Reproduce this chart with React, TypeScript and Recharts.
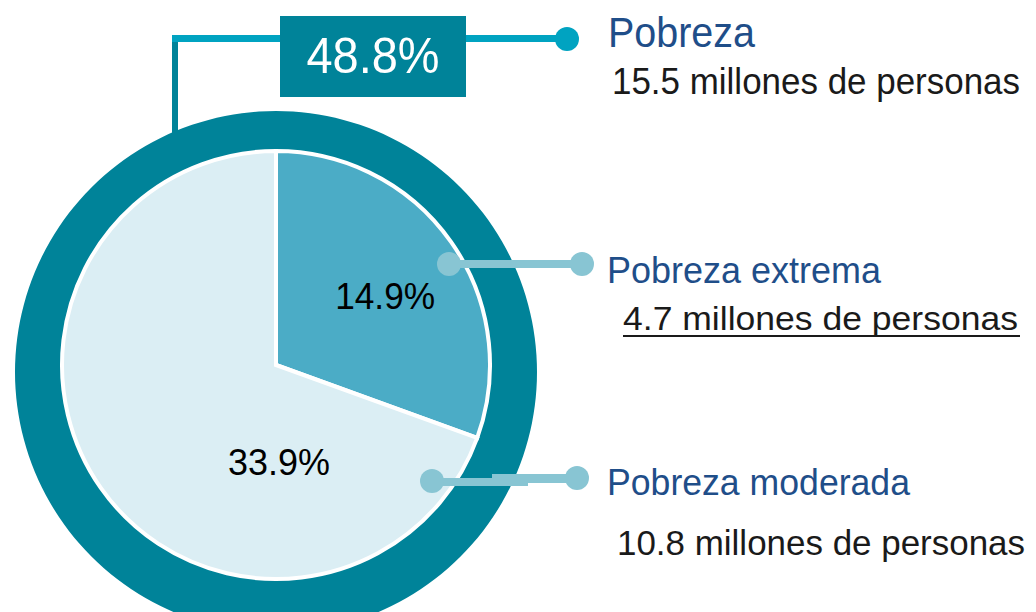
import React from 'react';
import { PieChart, Pie, Cell } from 'recharts';

// ---- data ----
const totalName = 'Pobreza';
const totalShare = [48.8];
const totalMillions = 15.5;

const categories = ['Pobreza extrema', 'Pobreza moderada'];
const shares = [14.9, 33.9];
const millions = [4.7, 10.8];

const ringData = totalShare.map((v) => ({ name: totalName, value: v }));
const innerData = categories.map((c, i) => ({ name: c, value: shares[i] }));

const RING = '#008399';
const SLICE_COLORS = ['#4BACC6', '#DBEEF4'];
const CONNECT = '#88C5D3';
const TOP_LINE = '#00A3C1';
const BLUE = '#1F4E89';
const FONT = '"Liberation Sans", Arial, Helvetica, sans-serif';

const W = 1036;
const H = 612;
const CX = 276;
const CY = 365;

const fmtPct = (v: number) => `${v.toFixed(1)}%`;

const innerLabel = (props: any) => {
  const { cx, cy, midAngle, outerRadius, index, value } = props;
  const RAD = Math.PI / 180;
  let x: number;
  let y: number;
  if (index === 0) {
    const r = outerRadius * 0.6;
    x = cx + r * Math.cos(-midAngle * RAD) + 4;
    y = cy + r * Math.sin(-midAngle * RAD) + 18;
  } else {
    x = cx + 3;
    y = cy + outerRadius * 0.515;
  }
  return (
    <text
      x={x}
      y={y}
      textAnchor="middle"
      fill="#000"
      fontFamily={FONT}
      fontSize={37}
      textLength={index === 0 ? 100 : 102}
      lengthAdjust="spacingAndGlyphs"
    >
      {fmtPct(value)}
    </text>
  );
};

export default function App() {
  return (
    <div style={{ position: 'absolute', left: 0, top: 0, width: W, height: H, background: '#fff' }}>
      <PieChart width={W} height={H} margin={{ top: 0, right: 0, bottom: 0, left: 0 }}>
        <Pie
          data={ringData}
          dataKey="value"
          cx={CX}
          cy={372}
          outerRadius={261}
          innerRadius={0}
          startAngle={90}
          endAngle={-270}
          stroke="none"
          isAnimationActive={false}
        >
          {ringData.map((d, i) => (
            <Cell key={i} fill={RING} />
          ))}
        </Pie>
        <Pie
          data={innerData}
          dataKey="value"
          cx={CX}
          cy={CY}
          outerRadius={214}
          innerRadius={0}
          startAngle={90}
          endAngle={-270}
          stroke="#ffffff"
          strokeWidth={4}
          label={innerLabel}
          labelLine={false}
          isAnimationActive={false}
        >
          {innerData.map((d, i) => (
            <Cell key={i} fill={SLICE_COLORS[i]} stroke="#ffffff" strokeWidth={4} />
          ))}
        </Pie>
      </PieChart>
      <svg
        width={W}
        height={H}
        style={{ position: 'absolute', left: 0, top: 0, pointerEvents: 'none' }}
      >
        {/* total connector */}
        <rect x={172} y={40} width={6} height={96} fill={RING} />
        <rect x={172} y={35} width={110} height={7} fill={TOP_LINE} />
        <rect x={464} y={35} width={103} height={7} fill={TOP_LINE} />
        <circle cx={567} cy={39} r={12} fill={TOP_LINE} />
        <rect x={280} y={16} width={186} height={81} fill={RING} />
        <text
          x={373}
          y={73}
          textAnchor="middle"
          fill="#fff"
          fontFamily={FONT}
          fontSize={50}
          textLength={133}
          lengthAdjust="spacingAndGlyphs"
        >
          {fmtPct(totalShare[0])}
        </text>
        <text x={608} y={47} fill={BLUE} fontFamily={FONT} fontSize={43} textLength={147} lengthAdjust="spacingAndGlyphs">
          {totalName}
        </text>
        <text x={612} y={94} fill="#1a1a1a" fontFamily={FONT} fontSize={36} textLength={408} lengthAdjust="spacingAndGlyphs">
          {`${totalMillions} millones de personas`}
        </text>

        {/* extrema connector */}
        <rect x={449} y={260} width={133} height={8} fill={CONNECT} />
        <circle cx={449} cy={264} r={12} fill={CONNECT} />
        <circle cx={582} cy={264} r={12} fill={CONNECT} />
        <text x={607} y={283} fill={BLUE} fontFamily={FONT} fontSize={36} textLength={274} lengthAdjust="spacingAndGlyphs">
          {categories[0]}
        </text>
        <text x={623} y={330} fill="#1a1a1a" fontFamily={FONT} fontSize={34} textLength={395} lengthAdjust="spacingAndGlyphs">
          {`${millions[0]} millones de personas`}
        </text>
        <rect x={623} y={335} width={397} height={2} fill="#1a1a1a" />

        {/* moderada connector */}
        <rect x={432} y={478} width={62} height={8} fill={CONNECT} />
        <rect x={492} y={474} width={36} height={12} fill={CONNECT} />
        <rect x={526} y={474} width={51} height={9} fill={CONNECT} />
        <circle cx={432} cy={481} r={12} fill={CONNECT} />
        <circle cx={577} cy={478} r={12} fill={CONNECT} />
        <text x={607} y={495} fill={BLUE} fontFamily={FONT} fontSize={36} textLength={303} lengthAdjust="spacingAndGlyphs">
          {categories[1]}
        </text>
        <text x={617} y={555} fill="#1a1a1a" fontFamily={FONT} fontSize={35} textLength={408} lengthAdjust="spacingAndGlyphs">
          {`${millions[1]} millones de personas`}
        </text>
      </svg>
    </div>
  );
}
